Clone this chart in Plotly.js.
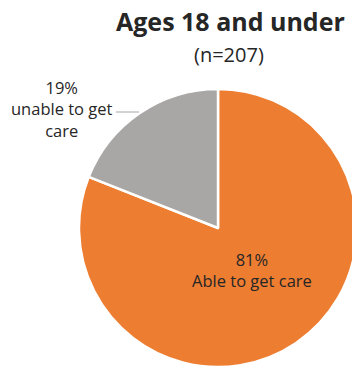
<!DOCTYPE html>
<html><head><meta charset="utf-8">
<script src="https://cdn.plot.ly/plotly-3.0.1.min.js"></script>
<style>html,body{margin:0;padding:0;overflow:hidden;background:#fff;width:352px;height:368px}</style>
</head><body><div id="chart"></div>
<script>
var categories = ["Able to get care", "unable to get care"];
var values = [81, 19];
var labelTexts = ["81%<br>Able to get care", "19%<br>unable to get<br>care"];
var colors = ["#ED7D31", "#A9A7A6"];
var titleText = "Ages 18 and under";
var subtitleText = "(n=207)";

var W = 380, H = 368;
var trace = {
  type: "pie",
  labels: categories,
  values: values,
  sort: false,
  direction: "clockwise",
  rotation: 0,
  textinfo: "none",
  hoverinfo: "none",
  marker: {colors: colors, line: {color: "#ffffff", width: 2.5}},
  domain: {x: [79 / W, 357 / W], y: [1 / H, 279 / H]},
  showlegend: false
};
var font = "'Open Sans', Lato, sans-serif";
var layout = {
  width: W, height: H,
  margin: {l: 0, r: 0, t: 0, b: 0},
  paper_bgcolor: "#fff",
  showlegend: false,
  annotations: [
    {text: "<b>" + titleText + "</b>", x: 230 / W, y: 1 - 21 / H, xref: "paper", yref: "paper", showarrow: false, xanchor: "center", yanchor: "middle", font: {family: font, size: 25, color: "#262626"}},
    {text: subtitleText, x: 229 / W, y: 1 - 55 / H, xref: "paper", yref: "paper", showarrow: false, xanchor: "center", yanchor: "middle", font: {family: font, size: 20, color: "#262626"}},
    {text: labelTexts[0], x: 252 / W, y: 1 - 270 / H, xref: "paper", yref: "paper", showarrow: false, xanchor: "center", yanchor: "middle", font: {family: font, size: 16.5, color: "#262626"}},
    {text: labelTexts[1], x: 62 / W, y: 1 - 109 / H, xref: "paper", yref: "paper", showarrow: false, xanchor: "center", yanchor: "middle", font: {family: font, size: 16.5, color: "#262626"}}
  ],
  shapes: [
    {type: "line", xref: "paper", yref: "paper", x0: 116 / W, x1: 139 / W, y0: 1 - 112 / H, y1: 1 - 112 / H, line: {color: "#A6A6A6", width: 1}}
  ]
};
Plotly.newPlot("chart", [trace], layout, {displayModeBar: false, staticPlot: true});
</script></body></html>
